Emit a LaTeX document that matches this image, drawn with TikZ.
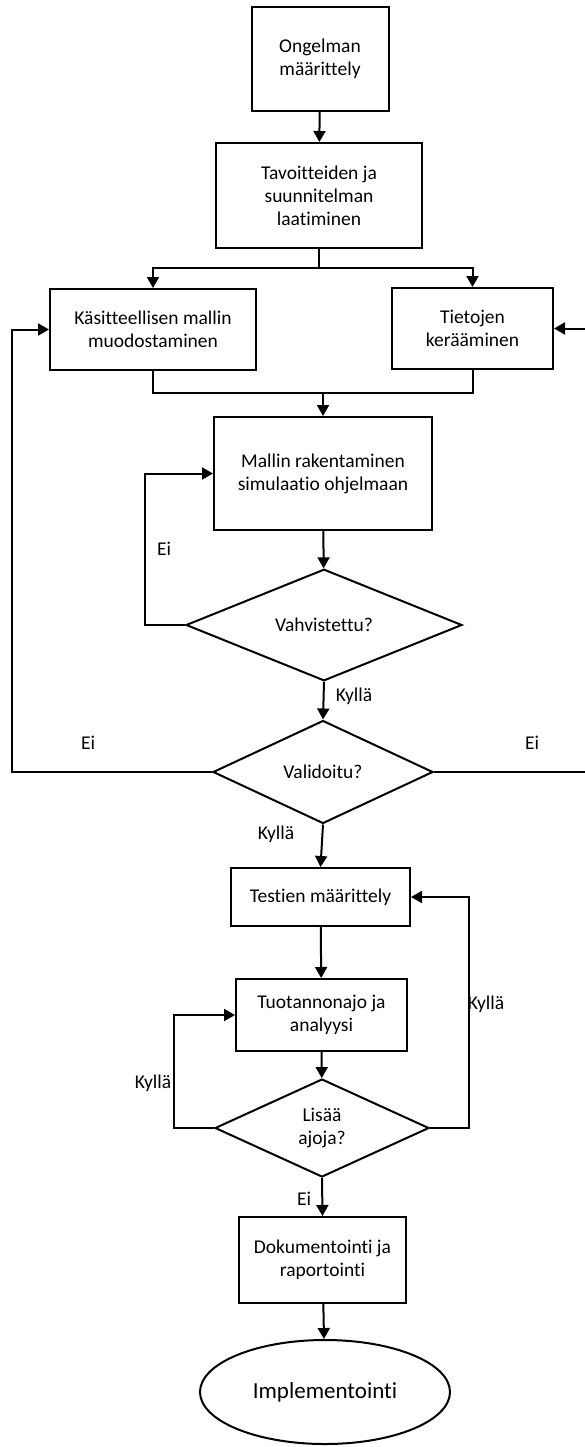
\documentclass[tikz,border=0pt]{standalone}
\usepackage{fontspec}
\setmainfont{Carlito}[Ligatures=NoCommon]
\usetikzlibrary{arrows.meta,shapes.geometric}

\begin{document}
\begin{tikzpicture}[x=1pt,y=-1pt,line width=2pt,>={Triangle[length=11pt,width=12pt]},
  box/.style={draw,align=center,inner sep=0pt,font=\fontsize{19.5}{23}\selectfont},
  decision/.style={draw,diamond,align=center,inner sep=0pt,font=\fontsize{19.5}{23}\selectfont},
  lbl/.style={inner sep=0pt,font=\fontsize{19.5}{23}\selectfont}]
      \useasboundingbox (0,0) rectangle (585,1447);
      \node[box,minimum width=137pt,minimum height=104pt] (ongelma) at (320,59) {Ongelman\\määrittely};
      \node[box,minimum width=206pt,minimum height=105pt] (tavoite) at (319,195.5) {Tavoitteiden ja\\suunnitelman\\laatiminen};
      \node[box,minimum width=206pt,minimum height=81pt] (malli) at (153,329.5) {Käsitteellisen mallin\\muodostaminen};
      \node[box,minimum width=161pt,minimum height=81pt] (tieto) at (472.5,328.5) {Tietojen\\kerääminen};
      \node[box,minimum width=218pt,minimum height=113pt] (rakenne) at (323,473.5) {Mallin rakentaminen\\simulaatio ohjelmaan};
      \node[decision,minimum width=276pt,minimum height=110pt] (vahv) at (324,625) {Vahvistettu?};
      \node[decision,minimum width=220pt,minimum height=103pt] (valid) at (323,772) {Validoitu?};
      \node[box,minimum width=179pt,minimum height=58pt] (testi) at (320.5,897) {Testien määrittely};
      \node[box,minimum width=171pt,minimum height=72pt] (ajo) at (321.5,1015) {Tuotannonajo ja\\analyysi};
      \node[decision,minimum width=214pt,minimum height=98pt] (lisaa) at (322,1128) {Lisää\\ajoja?};
      \node[box,minimum width=167pt,minimum height=86pt] (doku) at (322.5,1260) {Dokumentointi ja\\raportointi};
      \node[draw,ellipse,inner sep=0pt,minimum width=250pt,minimum height=104pt,
        font=\fontsize{23}{27}\selectfont] (impl) at (325,1392) {Implementointi};
      \coordinate (haara) at (tavoite.south |- 0,268);
      \coordinate (yhdys) at (rakenne.north |- 0,393);
      \draw[->] (ongelma) -- (tavoite);
      \draw (tavoite.south) -- (haara);
      \draw[->] (haara) -| (malli.north);
      \draw[->] (haara) -| (tieto.north);
      \draw (malli.south) |- (yhdys);
      \draw (tieto.south) |- (yhdys);
      \draw[->] (yhdys) -- (rakenne.north);
      \draw[->] (rakenne) -- (vahv);
      \draw[->] (vahv.west) -- ++(-40,0) |- (rakenne.west);
      \draw[->] (vahv.south) -- (valid.north);
      \draw[->] (valid.west) -- ++(-200,0) |- (malli.west);
      \draw[->] (valid.east) -- ++(152,0) |- (tieto.east);
      \draw[->] (valid.south) -- (testi.north);
      \draw[->] (testi) -- (ajo);
      \draw[->] (ajo) -- (lisaa);
      \draw[->] (lisaa.west) -- ++(-40,0) |- (ajo.west);
      \draw[->] (lisaa.east) -- ++(39,0) |- (testi.east);
      \draw[->] (lisaa.south) -- (doku.north);
      \draw[->] (doku) -- (impl);
      \node[lbl] (ei1) at (164,549) {Ei};
      \node[lbl] (kylla1) at (354,696) {Kyllä};
      \node[lbl] (ei2) at (88,743) {Ei};
      \node[lbl] (ei3) at (532,743) {Ei};
      \node[lbl] (kylla2) at (276,834) {Kyllä};
      \node[lbl] (kylla3) at (486,1004) {Kyllä};
      \node[lbl] (kylla4) at (153,1083) {Kyllä};
      \node[lbl] (ei4) at (304,1199) {Ei};
    \end{tikzpicture}
\end{document}
